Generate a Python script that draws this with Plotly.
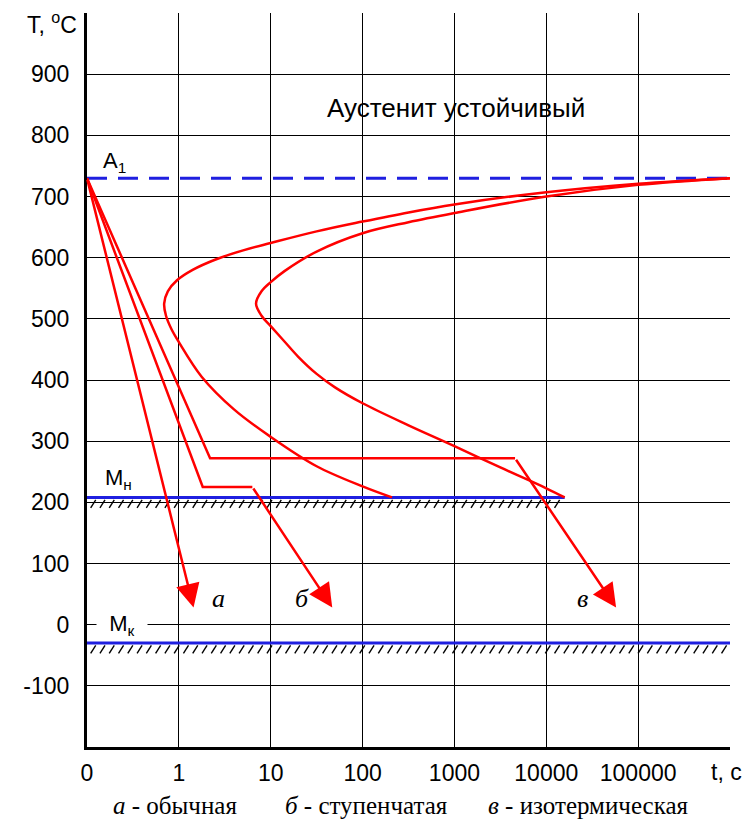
import numpy as np
import plotly.graph_objects as go

# ---- data (x in decade positions: 0 -> t=0, 1 -> 1 s, 2 -> 10 s, ... ) ----
x_tickvals = [0, 1, 2, 3, 4, 5, 6, 7]
x_ticktext = ["0", "1", "10", "100", "1000", "10000", "100000", ""]
x_unit = "t, c"
y_tickvals = [-200, -100, 0, 100, 200, 300, 400, 500, 600, 700, 800, 900, 1000]
y_ticktext = ["", "-100", "0", "100", "200", "300", "400", "500", "600", "700", "800", "900", ""]

A1 = 730
Mn = 208
Mk = -30
Mn_end = 5.2

# start-of-transformation C-curve (upper branch from right, nose, lower branch)
c1_x = [7.0, 6.0, 5.0, 4.0, 3.5, 3.0, 2.5, 2.0, 1.7, 1.4, 1.15, 0.98, 0.88, 0.84,
        0.86, 0.92, 1.0, 1.25, 1.6, 2.0, 2.5, 3.0, 3.32]
c1_y = [730, 721, 707, 687, 674, 659, 643, 624, 612, 597, 580, 563, 545, 525,
        505, 483, 462, 405, 352, 307, 259, 226, 208]
# end-of-transformation C-curve
c2_x = [7.0, 6.0, 5.0, 4.0, 3.5, 3.0, 2.5, 2.15, 2.0, 1.9, 1.84,
        1.9, 2.0, 2.15, 2.3, 2.5, 2.7, 3.0, 3.5, 4.0, 4.5, 5.0, 5.2]
c2_y = [730, 719, 700, 673, 658, 640, 610, 578, 560, 545, 525,
        505, 488, 463, 438, 410, 388, 362, 326, 292, 257, 223, 208]

# cooling paths: polyline then arrow to tip
a_x = [0, 1.16]
a_y = [730, 28]
b_x = [0, 1.26, 1.80, 2.67]
b_y = [730, 225, 225, 28]
v_x = [0, 1.34, 4.66, 5.76]
v_y = [730, 272, 272, 28]

RED = "#ff0000"
BLUE = "#1f1fe0"
FONT = "Liberation Sans, Arial, sans-serif"
SERIF = "Liberation Serif, Times New Roman, serif"

fig = go.Figure()

# hatching under Mн and Mк lines (derived from the line levels)
def hatch(x0, x1, level):
    xs, ys = [], []
    step = 0.101
    for xv in np.arange(x0 + 0.04, x1 - 0.03, step):
        xs += [xv, xv + 0.055, None]
        ys += [level - 17, level - 4, None]
    return xs, ys

hx, hy = hatch(0, Mn_end, Mn)
fig.add_trace(go.Scatter(x=hx, y=hy, mode="lines", line=dict(color="black", width=1.4), hoverinfo="skip"))
hx, hy = hatch(0, 7, Mk)
fig.add_trace(go.Scatter(x=hx, y=hy, mode="lines", line=dict(color="black", width=1.4), hoverinfo="skip"))

# Mн, Mк, A1 lines
fig.add_trace(go.Scatter(x=[0, Mn_end], y=[Mn, Mn], mode="lines", line=dict(color=BLUE, width=3)))
fig.add_trace(go.Scatter(x=[0, 7], y=[Mk, Mk], mode="lines", line=dict(color=BLUE, width=3)))
fig.add_trace(go.Scatter(x=[0, 7], y=[A1, A1], mode="lines", line=dict(color=BLUE, width=3, dash="20px,11px")))

# C-curves
for cx, cy in [(c1_x, c1_y), (c2_x, c2_y)]:
    fig.add_trace(go.Scatter(x=cx, y=cy, mode="lines",
                             line=dict(color=RED, width=2.5, shape="spline", smoothing=1.0)))

# cooling paths (all but last segment), last segment as arrow
for px, py in [(a_x, a_y), (b_x, b_y), (v_x, v_y)]:
    if len(px) > 2:
        fig.add_trace(go.Scatter(x=px[:-1], y=py[:-1], mode="lines", line=dict(color=RED, width=2.5)))
    fig.add_annotation(x=px[-1], y=py[-1], ax=px[-2], ay=py[-2], xref="x", yref="y",
                       axref="x", ayref="y", showarrow=True, arrowhead=2, arrowsize=1.9,
                       arrowwidth=2.5, arrowcolor=RED, standoff=0, text="")

# labels
fig.add_annotation(x=0.3, y=756, text="A<sub>1</sub>", showarrow=False,
                   font=dict(family=FONT, size=22, color="black"))
fig.add_annotation(x=0.34, y=238, text="M<sub>н</sub>", showarrow=False,
                   font=dict(family=FONT, size=22, color="black"))
fig.add_annotation(x=0.38, y=0, text="&nbsp;&nbsp;M<sub>к</sub>&nbsp;&nbsp;", showarrow=False,
                   bgcolor="white", borderpad=0, font=dict(family=FONT, size=22, color="black"))
fig.add_annotation(x=4.02, y=845, text="Аустенит устойчивый", showarrow=False,
                   font=dict(family=FONT, size=26, color="black"))
fig.add_annotation(x=1.43, y=42, text="<i>a</i>", showarrow=False,
                   font=dict(family=SERIF, size=26, color="black"))
fig.add_annotation(x=2.34, y=42, text="<i>б</i>", showarrow=False,
                   font=dict(family=SERIF, size=26, color="black"))
fig.add_annotation(x=5.39, y=42, text="<i>в</i>", showarrow=False,
                   font=dict(family=SERIF, size=26, color="black"))
fig.add_annotation(xref="paper", x=0, xanchor="right", xshift=-8, y=983, yref="y",
                   text="T, <sup>o</sup>C", showarrow=False,
                   font=dict(family=FONT, size=23, color="black"))
fig.add_annotation(xref="x", x=7, xanchor="center", xshift=-4, yref="paper", y=0,
                   yanchor="middle", yshift=-25, text=x_unit, showarrow=False,
                   font=dict(family=FONT, size=23, color="black"))

legend_items = ["<i>a</i> - обычная", "<i>б</i> - ступенчатая", "<i>в</i> - изотермическая"]
legend_pos = [0.137, 0.435, 0.78]
for txt, px in zip(legend_items, legend_pos):
    fig.add_annotation(xref="paper", yref="paper", x=px, xanchor="center", y=0,
                       yanchor="middle", yshift=-58, text=txt, showarrow=False,
                       font=dict(family=SERIF, size=25, color="black"))

# page body has an 8px margin, so the figure is 8px smaller than the window
fig.update_layout(
    width=744, height=811,
    margin=dict(l=79, r=22, t=5, b=72),
    paper_bgcolor="white", plot_bgcolor="white",
    showlegend=False,
    xaxis=dict(range=[0, 7], tickvals=x_tickvals, ticktext=x_ticktext, showgrid=True,
               gridcolor="black", gridwidth=1.4, zeroline=False, showline=True,
               linecolor="black", linewidth=3, ticks="", ticklabelstandoff=3,
               tickfont=dict(family=FONT, size=23, color="black")),
    yaxis=dict(range=[-200, 1000], tickvals=y_tickvals, ticktext=y_ticktext, showgrid=True,
               gridcolor="black", gridwidth=1.4, zeroline=False, showline=True,
               linecolor="black", linewidth=3, ticks="", ticklabelstandoff=10,
               tickfont=dict(family=FONT, size=23, color="black")),
)

fig.write_html("out.html")
